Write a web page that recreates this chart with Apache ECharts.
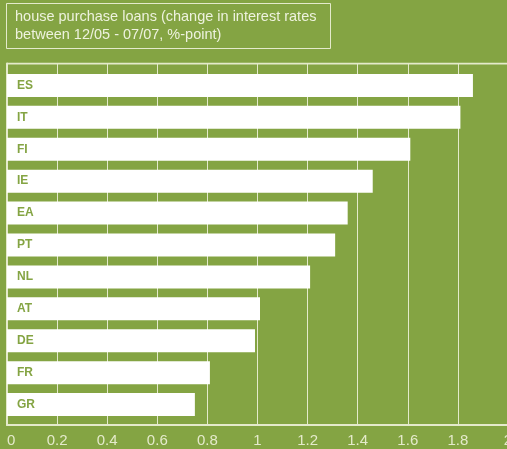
<!DOCTYPE html>
<html>
<head>
<meta charset="utf-8">
<style>
  html, body { margin: 0; padding: 0; background: #84a443; }
  #chart { width: 507px; height: 449px; }
</style>
<script src="https://cdn.jsdelivr.net/npm/echarts@6/dist/echarts.min.js"></script>
</head>
<body>
<div id="chart"></div>
<script>
// Countries, top to bottom
const countries = ['ES', 'IT', 'FI', 'IE', 'EA', 'PT', 'NL', 'AT', 'DE', 'FR', 'GR'];
// Change in house purchase loan rates, 12/05 - 07/07, %-point
const rateChange = [1.86, 1.81, 1.61, 1.46, 1.36, 1.31, 1.21, 1.01, 0.99, 0.81, 0.75];
const titleLines = ['house purchase loans (change in interest rates', 'between 12/05 - 07/07, %-point)'];

const green = '#84a443';
const pale = '#e4eacb';

const chart = echarts.init(document.getElementById('chart'), null, { renderer: 'canvas' });

chart.setOption({
  backgroundColor: green,
  animation: false,
  graphic: [
    {
      type: 'rect',
      shape: { x: 6.5, y: 3.5, width: 324, height: 45 },
      style: { fill: 'none', stroke: pale, lineWidth: 1 }
    },
    {
      type: 'text',
      left: 15, top: 8,
      style: {
        text: titleLines.join('\n'),
        fill: '#eef2de',
        font: '14.5px "Liberation Sans", sans-serif',
        lineHeight: 18
      }
    }
  ],
  grid: [
    // bar area
    { left: 7, right: -1, top: 69.5, bottom: 28.5, outerBoundsMode: 'none', containLabel: false },
    // frame with gridlines and value axis
    { left: 7, right: -1, top: 63.5, bottom: 24, outerBoundsMode: 'none', containLabel: false }
  ],
  xAxis: [
    {
      gridIndex: 0, type: 'value', min: 0, max: 2, interval: 0.2,
      show: false
    },
    {
      gridIndex: 1, type: 'value', min: 0, max: 2, interval: 0.2,
      axisLine: { show: true, lineStyle: { color: pale, width: 2 } },
      axisTick: { show: false },
      splitLine: { show: true, lineStyle: { color: pale, width: 1 } },
      axisLabel: {
        color: pale,
        fontFamily: 'Liberation Sans',
        fontSize: 15,
        margin: 8,
        alignMinLabel: 'left',
        formatter: v => String(Math.round(v * 10) / 10)
      }
    }
  ],
  yAxis: [
    {
      gridIndex: 0, type: 'category', data: countries, inverse: true,
      show: false
    },
    {
      gridIndex: 1, type: 'value', min: 0, max: 1,
      axisLine: { show: true, lineStyle: { color: pale, width: 2 } },
      axisTick: { show: false },
      axisLabel: { show: false },
      splitLine: { show: false }
    }
  ],
  series: [
    {
      type: 'bar',
      xAxisIndex: 0, yAxisIndex: 0,
      data: rateChange,
      barWidth: 23,
      itemStyle: { color: '#ffffff' },
      z: 5,
      label: {
        show: true,
        position: 'insideLeft',
        distance: 10,
        formatter: p => p.name,
        color: green,
        fontFamily: 'Liberation Sans',
        fontWeight: 'bold',
        fontSize: 12
      }
    },
    {
      // top border line of the plot frame
      type: 'line',
      xAxisIndex: 1, yAxisIndex: 1,
      data: [[0, 1], [2, 1]],
      symbol: 'none',
      lineStyle: { color: pale, width: 2 },
      silent: true
    }
  ]
});
</script>
</body>
</html>
